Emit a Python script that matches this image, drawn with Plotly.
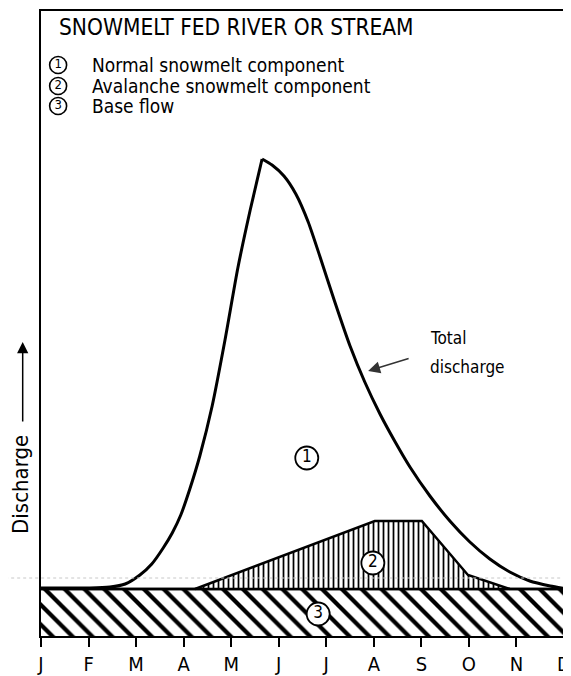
import plotly.graph_objects as go

# ---- data (arbitrary discharge units, months J..D at 0..11) ----
months = ["J", "F", "M", "A", "M", "J", "J", "A", "S", "O", "N", "D"]
month_pos = list(range(12))

base_flow_x = [0, 11]
base_flow_y = [9.4, 9.4]

total_rise_x = [0, 1.03, 1.45, 1.77, 2.08, 2.33, 2.57, 2.76, 2.94, 3.13, 3.34, 3.60, 3.87, 4.14, 4.40, 4.65]
total_rise_y = [9.6, 9.6, 9.8, 10.4, 12.2, 14.4, 17.6, 20.6, 24.2, 29.4, 36.0, 46.0, 59.2, 73.6, 85.2, 95.4]
total_fall_x = [4.65, 4.86, 5.11, 5.36, 5.62, 5.87, 6.18, 6.50, 6.81, 7.13, 7.45, 7.76, 8.18,
                8.60, 9.02, 9.44, 9.86, 10.28, 10.71, 11]
total_fall_y = [95.4, 94.2, 92.0, 88.4, 82.8, 75.8, 66.8, 58.0, 50.8, 44.4, 38.8, 33.8, 28.0,
                23.0, 18.8, 15.4, 12.8, 11.0, 10.0, 9.5]

aval_x = [3.24, 7.02, 8.01, 8.98, 9.86]
aval_y = [9.4, 23.0, 23.0, 12.2, 9.4]

title_text = "SNOWMELT FED RIVER OR STREAM"
legend_nums = ["1", "2", "3"]
legend_labels = ["Normal snowmelt component", "Avalanche snowmelt component", "Base flow"]
legend_x = 0.36
legend_y = [114.2, 110.0, 106.0]

region_nums = ["1", "2", "3"]
region_x = [5.59, 6.98, 5.83]
region_y = [35.6, 14.6, 4.4]

FONT = "DejaVu Sans Condensed, Liberation Sans Narrow, DejaVu Sans, sans-serif"

fig = go.Figure()

# base flow band
fig.add_trace(go.Scatter(
    x=base_flow_x, y=base_flow_y, mode="lines", fill="tozeroy",
    line=dict(color="black", width=2.5),
    fillcolor="white",
    fillpattern=dict(shape="\\", size=14, solidity=0.3, fgcolor="black", fgopacity=1, bgcolor="white"),
    hoverinfo="skip", showlegend=False))

# avalanche component
fig.add_trace(go.Scatter(
    x=aval_x, y=aval_y, mode="lines", fill="toself",
    line=dict(color="black", width=2.5),
    fillcolor="white",
    fillpattern=dict(shape="|", size=5, solidity=0.35, fgcolor="black", fgopacity=1, bgcolor="white"),
    hoverinfo="skip", showlegend=False))

# re-draw base top line over avalanche
fig.add_trace(go.Scatter(
    x=base_flow_x, y=base_flow_y, mode="lines",
    line=dict(color="black", width=2.5), hoverinfo="skip", showlegend=False))

# total discharge curve
for xs, ys in [(total_rise_x, total_rise_y), (total_fall_x, total_fall_y)]:
    fig.add_trace(go.Scatter(
        x=xs, y=ys, mode="lines", line=dict(color="black", width=3, shape="spline", smoothing=0.6),
        hoverinfo="skip", showlegend=False))

# circled numbers in the chart
fig.add_trace(go.Scatter(
    x=region_x, y=region_y, mode="markers+text", text=region_nums,
    textposition="middle center", textfont=dict(family=FONT, size=17, color="black"),
    marker=dict(symbol="circle", size=23, color="white", line=dict(color="black", width=1.8)),
    hoverinfo="skip", showlegend=False, cliponaxis=False))

# legend circled numbers
fig.add_trace(go.Scatter(
    x=[legend_x] * 3, y=legend_y, mode="markers+text", text=legend_nums,
    textposition="middle center", textfont=dict(family=FONT, size=13, color="black"),
    marker=dict(symbol="circle", size=17, color="white", line=dict(color="black", width=1.6)),
    hoverinfo="skip", showlegend=False, cliponaxis=False))

# title & legend texts
fig.add_annotation(x=0.34, y=121.8, xref="x", yref="y", text=title_text, showarrow=False,
                   xanchor="left", yanchor="middle", font=dict(family=FONT, size=22.5, color="black"))
for lab, yy in zip(legend_labels, legend_y):
    fig.add_annotation(x=1.03, y=yy, xref="x", yref="y", text=lab, showarrow=False,
                       xanchor="left", yanchor="middle", font=dict(family=FONT, size=19, color="black"))

# total discharge label and arrow
fig.add_annotation(x=8.14, y=59.6, text="Total", showarrow=False, xanchor="left", yanchor="middle",
                   font=dict(family=FONT, size=17, color="black"))
fig.add_annotation(x=8.14, y=53.8, text="discharge", showarrow=False, xanchor="left", yanchor="middle",
                   font=dict(family=FONT, size=17, color="black"))
fig.add_annotation(x=6.88, y=53.0, text="", showarrow=True, ax=42, ay=-13,
                   arrowhead=2, arrowsize=1.6, arrowwidth=1.5, arrowcolor="#333")

# vertical axis label with arrow
fig.add_annotation(x=-0.038, y=0.242, xref="paper", yref="paper", text="Discharge", showarrow=False,
                   textangle=-90, xanchor="center", yanchor="middle",
                   font=dict(family=FONT, size=22, color="black"))
fig.add_annotation(x=-0.035, y=58.8, xref="paper", yref="y", text="", showarrow=True, ax=0, ay=81,
                   arrowhead=2, arrowsize=1.5, arrowwidth=1.5, arrowcolor="black")

# faint scan line
fig.add_shape(type="line", xref="paper", yref="y", x0=-0.08, x1=1.02, y0=11.6, y1=11.6,
              line=dict(color="#c8c8c8", width=1, dash="dot"))

# page has an 8px body offset; size figure so the plot area lands at 41..564 x 11..636
fig.update_layout(
    width=563, height=668,
    margin=dict(l=33, r=7, t=3, b=40, autoexpand=False),
    paper_bgcolor="white", plot_bgcolor="white",
    xaxis=dict(range=[0, 11], tickvals=month_pos, ticktext=months, showgrid=False, zeroline=False,
               automargin=False,
               showline=True, mirror=True, linecolor="black", linewidth=2,
               ticks="outside", ticklen=9, tickwidth=2, tickcolor="black",
               tickfont=dict(family=FONT, size=20, color="black"), ticklabelstandoff=0),
    yaxis=dict(range=[0, 125], showgrid=False, zeroline=False, showticklabels=False, ticks="",
               automargin=False,
               showline=True, mirror=True, linecolor="black", linewidth=2),
)

fig.write_html("out.html")
